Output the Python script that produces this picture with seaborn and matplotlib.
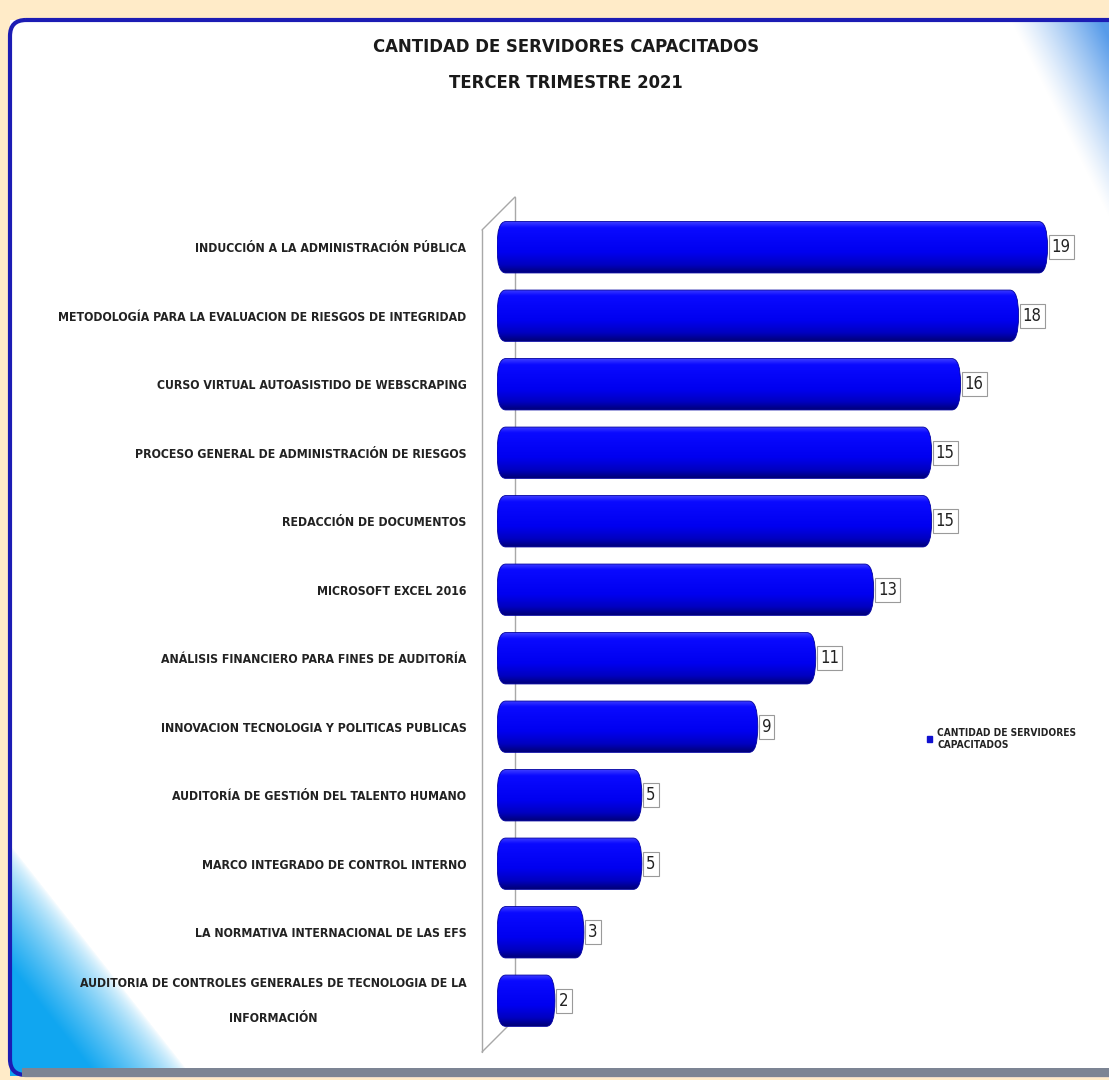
import os
import numpy as np
import matplotlib
matplotlib.use("Agg")
import matplotlib.pyplot as plt
import seaborn as sns
from matplotlib import font_manager
from matplotlib.font_manager import FontProperties
from matplotlib.patches import FancyBboxPatch, Patch, Rectangle
from matplotlib.colors import LinearSegmentedColormap, to_rgb

# Data
cursos = [
    "INDUCCIÓN A LA ADMINISTRACIÓN PÚBLICA",
    "METODOLOGÍA PARA LA EVALUACION DE RIESGOS DE INTEGRIDAD",
    "CURSO VIRTUAL AUTOASISTIDO DE WEBSCRAPING",
    "PROCESO GENERAL DE ADMINISTRACIÓN DE RIESGOS",
    "REDACCIÓN DE DOCUMENTOS",
    "MICROSOFT EXCEL 2016",
    "ANÁLISIS FINANCIERO PARA FINES DE AUDITORÍA",
    "INNOVACION TECNOLOGIA Y POLITICAS PUBLICAS",
    "AUDITORÍA DE GESTIÓN DEL TALENTO HUMANO",
    "MARCO INTEGRADO DE CONTROL INTERNO",
    "LA NORMATIVA INTERNACIONAL DE LAS EFS",
    "AUDITORIA DE CONTROLES GENERALES DE TECNOLOGIA DE LA\nINFORMACIÓN",
]
servidores = [19, 18, 16, 15, 15, 13, 11, 9, 5, 5, 3, 2]
serie = "CANTIDAD DE SERVIDORES\nCAPACITADOS"

sns.set_theme(style="white")


# look for a condensed face (the original uses Calibri, which is narrow)
def find_narrow(bold):
    best = None
    for f in font_manager.fontManager.ttflist:
        fn = os.path.basename(f.fname).lower()
        if not ("narrow" in fn or "condensed" in fn):
            continue
        if any(k in fn for k in ("semicondensed", "extracondensed", "semi", "extra",
                                 "ultra", "italic", "oblique", "black", "light", "thin", "medium")):
            continue
        if bold and "bold" in fn:
            best = f.fname
            break
        if not bold and "bold" not in fn:
            best = f.fname
            break
    return best


nb, nr = find_narrow(True), find_narrow(False)
if nb:
    fp_bold = lambda s: FontProperties(fname=nb, size=s)
    fp_reg = lambda s: FontProperties(fname=nr or nb, size=s)
    scale = 1.0
else:
    fp_bold = lambda s: FontProperties(family=["Roboto", "DejaVu Sans"], weight="bold", size=s)
    fp_reg = lambda s: FontProperties(family=["Roboto", "DejaVu Sans"], size=s)
    scale = 0.85
plt.rcParams["font.family"] = ["Roboto", "DejaVu Sans"]

W, H = 1109, 1080
fig = plt.figure(figsize=(W / 100, H / 100), dpi=100)

# background frame (cream page, white panel, blue corner glows)
bg = fig.add_axes([0, 0, 1, 1], zorder=-10)
bg.axis("off")

yy, xx = np.mgrid[0:H, 0:W].astype(float)
img = np.ones((H, W, 3))
cream = np.array(to_rgb("#FFEBC8"))
outside = (xx < 10) | (yy < 20) | (yy > 1075)
img[outside] = cream
m = ~outside

# bottom-left glow
p0, p1 = np.array([30.0, 870.0]), np.array([195.0, 1080.0])
n = np.array([p1[1] - p0[1], -(p1[0] - p0[0])])
n /= np.linalg.norm(n)
d = (xx - p0[0]) * n[0] + (yy - p0[1]) * n[1]
t = np.clip(-d / 75.0, 0, 1) ** 0.7
c = np.array(to_rgb("#10A6F0"))
img[m] = img[m] * (1 - t[m, None]) + c * t[m, None]

# top-right glow
q0, q1 = np.array([1010.0, 20.0]), np.array([1120.0, 240.0])
n2 = np.array([q1[1] - q0[1], -(q1[0] - q0[0])])
n2 /= np.linalg.norm(n2)
d2 = (xx - q0[0]) * n2[0] + (yy - q0[1]) * n2[1]
t2 = np.clip(d2 / 80.0, 0, 1) ** 1.2 * 0.85
c2 = np.array(to_rgb("#3A8AE6"))
img[m] = img[m] * (1 - t2[m, None]) + c2 * t2[m, None]

bg.imshow(img, extent=(0, W, H, 0), aspect="auto", interpolation="bilinear")
bg.add_patch(FancyBboxPatch((10, 20), W + 40, 1055,
                            boxstyle="round,pad=0,rounding_size=16",
                            fc="none", ec="#1C1CB4", lw=3))
bg.add_patch(Rectangle((22, 1068), W, 9, fc="#7C8494", ec="none"))
bg.set_xlim(0, W)
bg.set_ylim(H, 0)

# 3D wall outline
wall = dict(color="#A8A8A8", lw=1)
bg.plot([482, 482], [230, 1052], **wall)
bg.plot([482, 515], [230, 197], **wall)
bg.plot([515, 515], [197, 1019], **wall)
bg.plot([482, 515], [1052, 1019], **wall)

# main chart
ax = fig.add_axes([497 / W, 1 - 1035 / H, 594 / W, 822 / H])
ax.set_facecolor("none")
sns.barplot(x=servidores, y=cursos, orient="h", color="#0000FF", width=0.75, ax=ax)

cmap = LinearSegmentedColormap.from_list(
    "cyl", [(0, "#4040FF"), (0.12, "#0A0AFF"), (0.6, "#0000F0"),
            (0.85, "#0000C0"), (1, "#00007A")])
grad = np.linspace(0, 1, 64)[:, None]
rx, ry = 0.3, 0.37
for bar in ax.patches:
    x, y, w, h = bar.get_x(), bar.get_y(), bar.get_width(), bar.get_height()
    cyl = FancyBboxPatch((x, y), w, h,
                         boxstyle=f"round,pad=0,rounding_size={rx}",
                         mutation_aspect=ry / rx, fc="none",
                         ec="#0000A0", lw=0.6, zorder=3)
    ax.add_patch(cyl)
    im = ax.imshow(grad, extent=(x, x + w, y + h, y), aspect="auto",
                   cmap=cmap, zorder=2, interpolation="bilinear")
    im.set_clip_path(cyl)
    bar.set_visible(False)

labels = ax.bar_label(ax.containers[0], padding=3, color="#222222",
                      bbox=dict(boxstyle="square,pad=0.18", fc="white", ec="#9A9A9A", lw=0.8))
for lb in labels:
    lb.set_fontproperties(fp_reg(12 * scale))

ax.set_xlim(0, 20.5)
ax.set_ylim(11.5, -0.5)
ax.set_xlabel("")
ax.set_ylabel("")
ax.set_xticks([])
ax.tick_params(axis="y", length=0, pad=22)
for lab in ax.get_yticklabels():
    lab.set_fontproperties(fp_bold(8.8 * scale))
    lab.set_color("#222222")
    lab.set_multialignment("center")
    if "\n" in lab.get_text():
        lab.set_linespacing(3.2)
        lab.set_verticalalignment("center")
sns.despine(ax=ax, left=True, bottom=True)

fig.text(0.51, 1 - 47 / H, "CANTIDAD DE SERVIDORES CAPACITADOS",
         ha="center", va="center", color="#1A1A1A", fontproperties=fp_bold(13.2 * scale))
fig.text(0.51, 1 - 83 / H, "TERCER TRIMESTRE 2021",
         ha="center", va="center", color="#1A1A1A", fontproperties=fp_bold(13.2 * scale))

fig.legend(handles=[Patch(color="#1010D0", label=serie)],
           loc="upper left", bbox_to_anchor=(918 / W, 1 - 719 / H),
           frameon=False, handlelength=0.5, handleheight=0.5, handletextpad=0.5,
           prop=fp_bold(7.3 * scale), labelcolor="#222222")

fig.savefig("out.png", dpi=100)
